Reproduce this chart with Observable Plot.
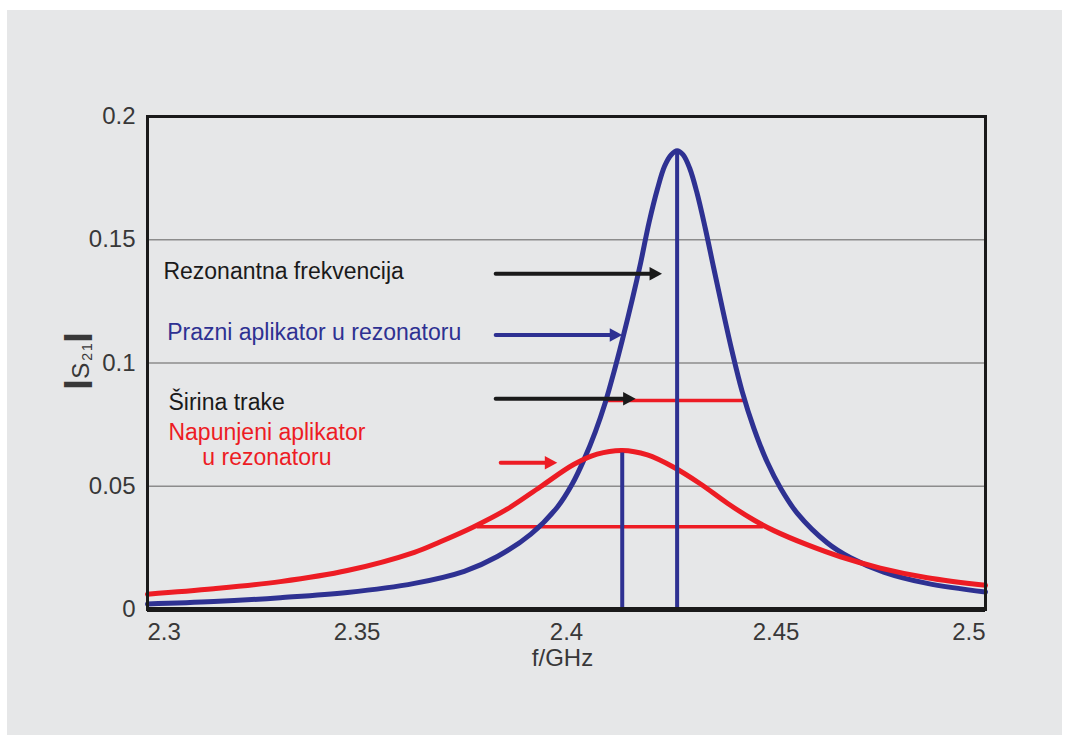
<!DOCTYPE html>
<html>
<head>
<meta charset="utf-8">
<script src="https://cdn.jsdelivr.net/npm/d3@7"></script>
<script src="https://cdn.jsdelivr.net/npm/@observablehq/plot@0.6"></script>
<style>
  html, body { margin: 0; padding: 0; background: #ffffff; }
  #panel { position: absolute; left: 7px; top: 10px; width: 1055px; height: 725px; background: #e6e7e8; }
  #panel svg { display: block; }
</style>
</head>
<body>
<div id="panel"></div>
<script>
// ---- data ----
const freqBlue = [2.3000, 2.3158, 2.3317, 2.3477, 2.3637, 2.3756, 2.3835, 2.3915, 2.3978, 2.4014,
  2.4041, 2.4069, 2.4093, 2.4113, 2.4133, 2.4157, 2.4177, 2.4197, 2.4217, 2.4234, 2.4250, 2.4264,
  2.4278, 2.4294, 2.4311, 2.4331, 2.4351, 2.4372, 2.4395, 2.4419, 2.4447, 2.4479, 2.4511, 2.4551,
  2.4622, 2.4678, 2.4757, 2.4861, 2.5000];
const s21Blue = [0.0022, 0.0032, 0.0048, 0.0069, 0.0106, 0.0155, 0.0215, 0.0306, 0.0415, 0.0510,
  0.0605, 0.0722, 0.0842, 0.0962, 0.1092, 0.1258, 0.1407, 0.1570, 0.1706, 0.1798, 0.1845, 0.1861,
  0.1845, 0.1790, 0.1693, 0.1548, 0.1388, 0.1222, 0.1048, 0.0886, 0.0736, 0.0598, 0.0492, 0.0390,
  0.0271, 0.0210, 0.0152, 0.0106, 0.0071];

const freqRed = [2.3000, 2.3158, 2.3317, 2.3477, 2.3637, 2.3699, 2.3779, 2.3858, 2.3938, 2.4017,
  2.4073, 2.4133, 2.4193, 2.4256, 2.4320, 2.4384, 2.4447, 2.4495, 2.4574, 2.4654, 2.4749, 2.4861, 2.5000];
const s21Red = [0.0062, 0.0084, 0.0113, 0.0158, 0.0232, 0.0275, 0.0336, 0.0407, 0.0498, 0.0588,
  0.0630, 0.0645, 0.0627, 0.0577, 0.0509, 0.0431, 0.0363, 0.0320, 0.0263, 0.0214, 0.0168, 0.0129, 0.0098];

// resonance markers (vertical lines): frequency and height
const resonanceF = [2.4133, 2.4264];
const resonanceTop = [0.0635, 0.1861];

// bandwidth markers (horizontal lines)
const bandLevel = [0.0848, 0.0336];
const bandFrom = [2.4095, 2.3787];
const bandTo = [2.4424, 2.4470];

// annotation arrows
const arrowKind = ["resonance", "empty", "bandwidth", "loaded"];
const arrowFrom = [2.3831, 2.3831, 2.3831, 2.3843];
const arrowTo = [2.4228, 2.4133, 2.4165, 2.3978];
const arrowLevel = [0.1362, 0.1114, 0.0855, 0.0595];

// annotation labels
const labelKind = ["resonance", "empty", "bandwidth", "loaded"];
const labelText = ["Rezonantna frekvencija", "Prazni aplikator u rezonatoru", "Širina trake", "Napunjeni aplikator\nu rezonatoru"];
const labelF = [2.3038, 2.3047, 2.3050, 2.3285];
const labelLevel = [0.1372, 0.1125, 0.0841, 0.0669];

// axes
const xTicks = [2.3, 2.35, 2.4, 2.45, 2.5];
const xTickLabels = ["2.3", "2.35", "2.4", "2.45", "2.5"];
const yTicks = [0, 0.05, 0.1, 0.15, 0.2];
const yTickLabels = ["0", "0.05", "0.1", "0.15", "0.2"];
const gridLevels = [0.05, 0.1, 0.15];
const xLabel = "f/GHz";

// ---- build tables ----
const NAVY = "#2e3192", RED = "#ed1c24", INK = "#1a1a1a", TICK = "#383838";
const blue = freqBlue.map((f, i) => ({f, v: s21Blue[i]}));
const red = freqRed.map((f, i) => ({f, v: s21Red[i]}));
const resonances = resonanceF.map((f, i) => ({f, v: resonanceTop[i]}));
const bands = bandLevel.map((v, i) => ({v, f1: bandFrom[i], f2: bandTo[i]}));
const arrows = arrowKind.map((k, i) => ({k, f1: arrowFrom[i], f2: arrowTo[i], v: arrowLevel[i]}));
const labels = labelKind.map((k, i) => ({k, t: labelText[i], f: labelF[i], v: labelLevel[i]}));
const xt = xTicks.map((x, i) => ({x, t: xTickLabels[i]}));
const yt = yTicks.map((y, i) => ({y, t: yTickLabels[i]}));

const rightTriangle = {
  draw(ctx, size) {
    const r = Math.sqrt(size / Math.PI);
    ctx.moveTo(0, 0);
    ctx.lineTo(-2.5 * r, -1.35 * r);
    ctx.lineTo(-2.5 * r, 1.35 * r);
    ctx.closePath();
  }
};

const FONT = "'Liberation Sans', Arial, sans-serif";

const chart = Plot.plot({
  width: 1055,
  height: 725,
  marginLeft: 140,
  marginTop: 106,
  marginRight: 77,
  marginBottom: 126,
  style: {background: "transparent", fontFamily: FONT},
  x: {domain: [2.3, 2.5], axis: null},
  y: {domain: [0, 0.2], axis: null},
  color: {domain: ["resonance", "empty", "bandwidth", "loaded"], range: [INK, NAVY, INK, RED]},
  marks: [
    Plot.ruleY(gridLevels, {stroke: "#8c8c8c", strokeWidth: 1.6}),
    Plot.ruleY(bands, {y: "v", x1: "f1", x2: "f2", stroke: RED, strokeWidth: 3.5}),
    Plot.line(blue, {x: "f", y: "v", stroke: NAVY, strokeWidth: 5, curve: "catmull-rom"}),
    Plot.line(red, {x: "f", y: "v", stroke: RED, strokeWidth: 5, curve: "catmull-rom"}),
    Plot.ruleX(resonances, {x: "f", y1: 0, y2: "v", stroke: NAVY, strokeWidth: 4}),
    Plot.arrow(arrows, {x1: "f1", x2: "f2", y1: "v", y2: "v", stroke: "k", strokeWidth: 4, headLength: 0, insetEnd: 7}),
    Plot.dot(arrows, {x: "f2", y: "v", fill: "k", stroke: null, symbol: rightTriangle, r: 5}),
    Plot.text(labels.slice(0, 3), {x: "f", y: "v", text: "t", fill: "k", fontSize: 23, textAnchor: "start"}),
    Plot.text(labels.slice(3), {x: "f", y: "v", text: "t", fill: "k", fontSize: 23, textAnchor: "middle", lineHeight: 1.1}),
    Plot.frame({stroke: INK, strokeWidth: 3}),
    Plot.ruleY([0], {stroke: INK, strokeWidth: 5}),
    Plot.text(yt, {y: "y", text: "t", frameAnchor: "left", dx: -12, textAnchor: "end", fontSize: 24, fill: TICK}),
    Plot.text(xt.slice(0, 1), {x: "x", text: "t", frameAnchor: "bottom", dy: 30, textAnchor: "start", fontSize: 24, fill: TICK}),
    Plot.text(xt.slice(1, -1), {x: "x", text: "t", frameAnchor: "bottom", dy: 30, textAnchor: "middle", fontSize: 24, fill: TICK}),
    Plot.text(xt.slice(-1), {x: "x", text: "t", frameAnchor: "bottom", dy: 30, textAnchor: "end", fontSize: 24, fill: TICK}),
    Plot.text([xLabel], {x: 2.4, text: d => d, frameAnchor: "bottom", dy: 56, dx: -4, fontSize: 24, fill: TICK})
  ]
});

// y axis label |S21| with subscript
const ylab = d3.select(chart).append("text")
  .attr("transform", "translate(82,350) rotate(-90)")
  .attr("text-anchor", "middle")
  .attr("fill", TICK)
  .attr("font-family", FONT)
  .style("letter-spacing", "2px");
ylab.append("tspan").attr("font-size", 27).attr("font-weight", "bold").attr("stroke", TICK).attr("stroke-width", 2).attr("dy", -4).text("|");
ylab.append("tspan").attr("font-size", 24).attr("dy", 4).text("S");
ylab.append("tspan").attr("font-size", 14).attr("dy", 3).text("21");
ylab.append("tspan").attr("font-size", 27).attr("font-weight", "bold").attr("stroke", TICK).attr("stroke-width", 2).attr("dy", -7).text("|");

document.getElementById("panel").appendChild(chart);
</script>
</body>
</html>
